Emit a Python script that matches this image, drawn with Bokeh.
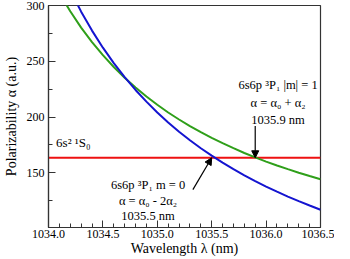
from bokeh.plotting import figure
from bokeh.models import (FixedTicker, PrintfTickFormatter, Label, Arrow,
                          NormalHead, Range1d)
from bokeh.embed import file_html
from bokeh.resources import INLINE

# ---- data ----
wavelength = [1034.1, 1034.2, 1034.3, 1034.4, 1034.5, 1034.6, 1034.7, 1034.8,
              1034.9, 1035.0, 1035.1, 1035.2, 1035.3, 1035.4, 1035.5, 1035.6,
              1035.7, 1035.8, 1035.9, 1036.0, 1036.1, 1036.2, 1036.3, 1036.4,
              1036.5]
# 6s6p 3P1 |m| = 1  (green)
alpha_m1 = [311.1, 294.8, 280.2, 267.2, 255.5, 244.9, 235.3, 226.5, 218.4,
            211.0, 204.1, 197.8, 191.9, 186.4, 181.3, 176.6, 172.1, 167.8,
            163.9, 160.1, 156.6, 153.3, 150.1, 147.1, 144.3]
# 6s6p 3P1 m = 0  (blue)
alpha_m0 = [334.8, 313.5, 294.5, 277.5, 262.2, 248.4, 235.8, 224.3, 213.8,
            204.1, 195.2, 186.9, 179.2, 172.0, 165.4, 159.1, 153.3, 147.8,
            142.6, 137.7, 133.1, 128.7, 124.6, 120.7, 116.9]
# 6s2 1S0 ground state (red, flat)
ground_x = [1034.0, 1036.5]
ground_alpha = [163.5, 163.5]

magic_m0 = 1035.5
magic_m1 = 1035.9

x_major = [1034.0, 1034.5, 1035.0, 1035.5, 1036.0, 1036.5]
x_minor = [1034.0 + 0.1 * i for i in range(26)]
y_major = [150, 200, 250, 300]
y_minor = [125, 175, 225, 275]

FONT = "Liberation Serif"

p = figure(width=334, height=258, output_backend="svg", toolbar_location=None,
           x_range=Range1d(1034.0, 1036.5), y_range=Range1d(101, 300),
           min_border_left=43, min_border_right=14, min_border_top=5,
           min_border_bottom=29)
p.background_fill_color = "white"
p.border_fill_color = "white"
p.outline_line_color = "#333333"
p.outline_line_width = 1.2
p.grid.visible = False

for ax in (p.xaxis[0], p.yaxis[0]):
    ax.axis_line_color = "#333333"
    ax.axis_line_width = 1.2
    ax.major_tick_line_color = "#333333"
    ax.minor_tick_line_color = "#333333"
    ax.major_tick_in = 7
    ax.major_tick_out = 0
    ax.minor_tick_in = 4
    ax.minor_tick_out = 0
    ax.major_label_text_font = FONT
    ax.major_label_text_font_size = "12px"
    ax.major_label_text_color = "black"
    ax.axis_label_text_font = FONT
    ax.axis_label_text_font_size = "14px"
    ax.axis_label_text_font_style = "normal"
    ax.axis_label_text_color = "black"

p.xaxis.ticker = FixedTicker(ticks=x_major, minor_ticks=x_minor)
p.xaxis.formatter = PrintfTickFormatter(format="%.1f")
p.xaxis.axis_label = "Wavelength λ (nm)"
p.xaxis.major_label_standoff = 2
p.xaxis.axis_label_standoff = 0

p.yaxis.ticker = FixedTicker(ticks=y_major, minor_ticks=y_minor)
p.yaxis.axis_label = "Polarizability α (a.u.)"
p.yaxis.major_label_standoff = 4
p.yaxis.axis_label_standoff = 5

p.line(ground_x, ground_alpha, line_color="#ee1111", line_width=2)
p.line(wavelength, alpha_m1, line_color="#2f9f1a", line_width=2)
p.line(wavelength, alpha_m0, line_color="#1414d0", line_width=2)

def lab(x, y, text, align="center", size="12.5px"):
    p.add_layout(Label(x=x, y=y, text=text, text_align=align,
                       text_baseline="middle", text_font=FONT,
                       text_font_size=size, text_color="black"))

lab(1034.07, 177, "6s² ¹S₀", align="left", size="13px")

lab(1036.11, 229, "6s6p ³P₁ |m| = 1")
lab(1036.11, 212.5, "α = α₀ + α₂")
lab(1036.11, 197, f"{magic_m1:.1f} nm")

lab(1034.915, 139, "6s6p ³P₁ m = 0")
lab(1034.915, 124.5, "α = α₀ - 2α₂")
lab(1034.915, 111, f"{magic_m0:.1f} nm")

p.add_layout(Arrow(end=NormalHead(size=7, fill_color="black", line_color="black"),
                   x_start=magic_m1, y_start=192, x_end=magic_m1,
                   y_end=ground_alpha[0], line_color="black", line_width=1.2))
p.add_layout(Arrow(end=NormalHead(size=7, fill_color="black", line_color="black"),
                   x_start=1035.327, y_start=135, x_end=magic_m0,
                   y_end=ground_alpha[0], line_color="black", line_width=1.2))

open("out.html", "w").write(file_html(p, INLINE))
